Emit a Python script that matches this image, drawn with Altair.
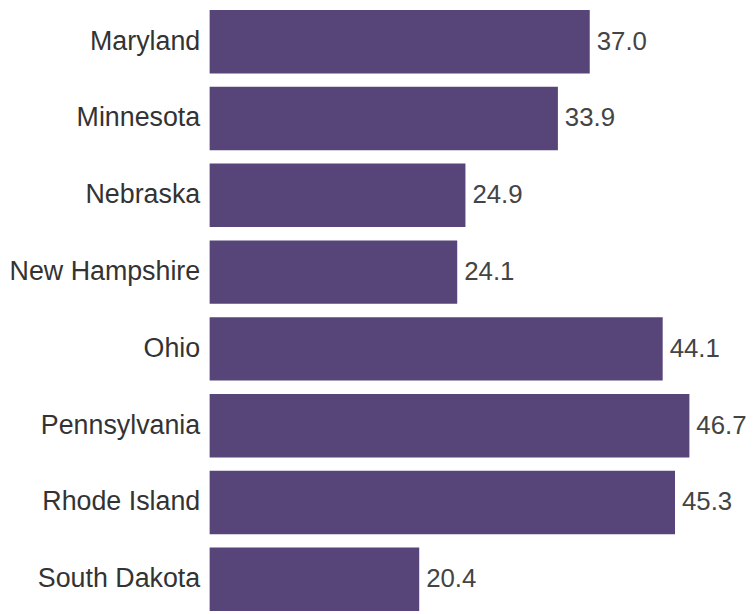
import altair as alt
import pandas as pd

states = ["Maryland", "Minnesota", "Nebraska", "New Hampshire", "Ohio",
          "Pennsylvania", "Rhode Island", "South Dakota"]
values = [37.0, 33.9, 24.9, 24.1, 44.1, 46.7, 45.3, 20.4]

df = pd.DataFrame({"state": states, "value": values})
df["label"] = df["value"].map(lambda v: f"{v:.1f}")

y = alt.Y("state:N", sort=states, title=None,
          scale=alt.Scale(paddingInner=0.174, paddingOuter=0),
          axis=alt.Axis(domain=False, ticks=False, labelFontSize=27,
                        labelColor="#333333", labelPadding=10,
                        labelFont="Liberation Sans", labelLimit=400))
x = alt.X("value:Q", title=None, scale=alt.Scale(domain=[0, 46.7], nice=False),
          axis=None)

bars = alt.Chart(df).mark_bar(color="#574479").encode(x=x, y=y)
text = alt.Chart(df).mark_text(align="left", baseline="middle", dx=7,
                               fontSize=26, font="Liberation Sans",
                               color="#444444").encode(x=x, y=y, text="label:N")

chart = (bars + text).properties(
    width=744, height=605,
    autosize=alt.AutoSizeParams(type="fit", contains="padding"),
    padding={"left": 0, "top": 0, "right": 0, "bottom": 0},
).configure_view(stroke=None)
chart.save("out.html", embed_options={"renderer": "svg", "actions": False})
